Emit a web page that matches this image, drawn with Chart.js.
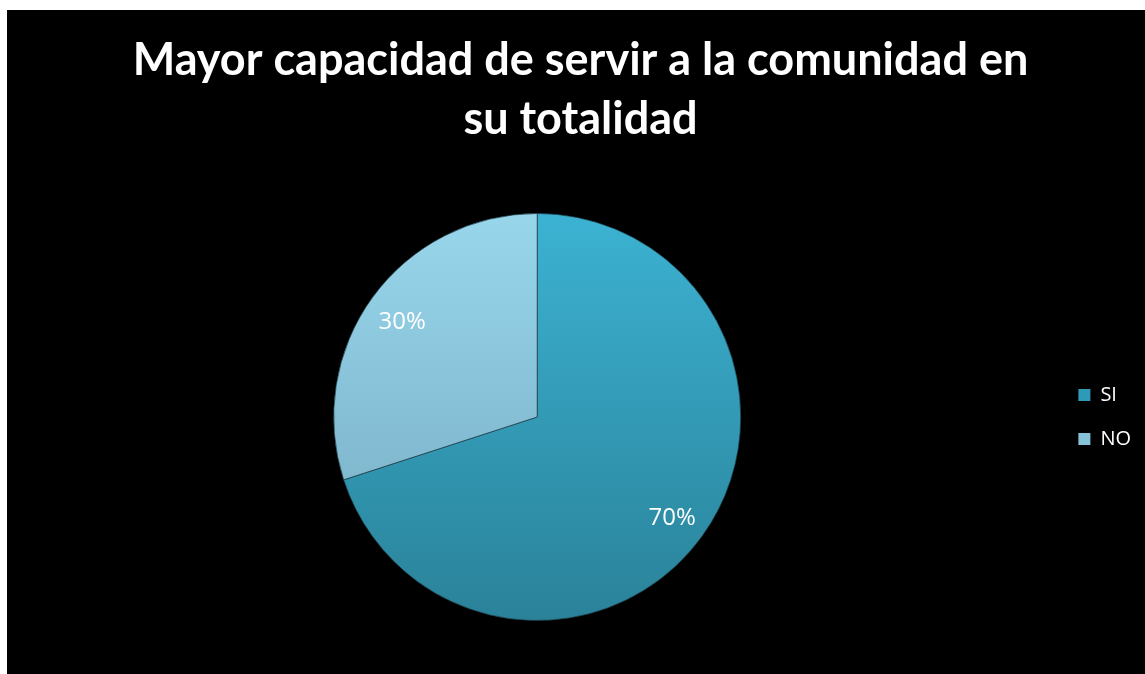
<!DOCTYPE html>
<html>
<head>
<meta charset="utf-8">
<title>Mayor capacidad de servir a la comunidad en su totalidad</title>
<script src="https://cdn.jsdelivr.net/npm/chart.js@4/dist/chart.umd.min.js"></script>
<style>
  html, body { margin: 0; padding: 0; background: #fff; }
  #wrap { position: absolute; left: 7px; top: 10px; width: 1138px; height: 664px; background: #000; }
</style>
</head>
<body>
<div id="wrap"><canvas id="myChart" width="1138" height="664"></canvas></div>
<script>
var categorias = ["SI", "NO"];
var porcentajes = [70, 30];
var titulo = ["Mayor capacidad de servir a la comunidad en", "su totalidad"];

// colores de cada sector: arriba / abajo del degradado
var colorArriba = ["#3cb2d2", "#98d6ec"];
var colorAbajo = ["#2a8299", "#74a9bf"];
var colorLeyenda = ["#2f9ab8", "#86c2d8"];

function relleno(context) {
  var i = context.dataIndex;
  var area = context.chart.chartArea;
  if (!area) return colorLeyenda[i];
  var g = context.chart.ctx.createLinearGradient(0, area.top, 0, area.bottom);
  g.addColorStop(0, colorArriba[i]);
  g.addColorStop(1, colorAbajo[i]);
  return g;
}

// escribe el porcentaje dentro de cada sector
var etiquetas = {
  id: "etiquetas",
  afterDatasetsDraw: function(chart) {
    var ctx = chart.ctx;
    var meta = chart.getDatasetMeta(0);
    ctx.save();
    ctx.fillStyle = "#fff";
    ctx.font = "24px 'Open Sans'";
    ctx.textAlign = "center";
    ctx.textBaseline = "middle";
    meta.data.forEach(function(arc, i) {
      var p = arc.getProps(["x", "y", "startAngle", "endAngle", "outerRadius"], true);
      var mid = (p.startAngle + p.endAngle) / 2;
      var r = p.outerRadius * 0.82;
      ctx.fillText(porcentajes[i] + "%", p.x + Math.cos(mid) * r, p.y + Math.sin(mid) * r + 3);
    });
    ctx.restore();
  }
};

var ctx = document.getElementById("myChart").getContext("2d");
var myPieChart = new Chart(ctx, {
  type: "pie",
  data: {
    labels: categorias,
    datasets: [{
      data: porcentajes,
      backgroundColor: relleno,
      borderColor: "rgba(30,60,70,0.7)",
      borderWidth: 1
    }]
  },
  options: {
    responsive: false,
    animation: false,
    devicePixelRatio: 1,
    layout: { padding: { left: 13, right: 4, top: 0, bottom: 53 } },
    plugins: {
      title: {
        display: true,
        text: titulo,
        color: "#fff",
        font: { family: "Lato", size: 45, weight: "bold", lineHeight: 1.333 },
        padding: { top: 20, bottom: 63 }
      },
      legend: {
        position: "right",
        fullSize: false,
        labels: {
          color: "#fff",
          font: { family: "Open Sans", size: 20 },
          boxWidth: 12,
          boxHeight: 12,
          padding: 24,
          generateLabels: function(chart) {
            return categorias.map(function(c, i) {
              return {
                text: c,
                fillStyle: colorLeyenda[i],
                strokeStyle: colorLeyenda[i],
                lineWidth: 0,
                fontColor: "#fff",
                index: i
              };
            });
          }
        }
      },
      tooltip: { enabled: false }
    }
  },
  plugins: [etiquetas]
});
</script>
</body>
</html>
